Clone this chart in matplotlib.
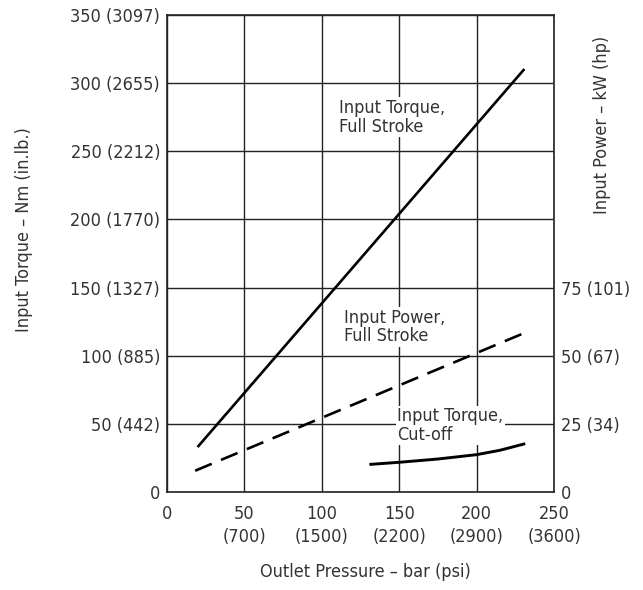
import matplotlib
matplotlib.use("Agg")
import matplotlib.pyplot as plt

plt.rcParams['font.family'] = ['DejaVu Sans']
plt.rcParams['font.stretch'] = 'condensed'

# outlet pressure (bar) vs torque / power
torque_full_p = [20.3, 230.3]
torque_full_nm = [33.7, 309.6]

power_full_p = [18.2, 232.8]
power_full_kw = [7.8, 58.8]

torque_cut_p = [131.7, 150, 175, 200, 215, 230.5]
torque_cut_nm = [20.3, 21.8, 24.2, 27.4, 30.6, 35.2]

x_ticks = [0, 50, 100, 150, 200, 250]
x_labels = ["0", "50\n(700)", "100\n(1500)", "150\n(2200)", "200\n(2900)", "250\n(3600)"]
y_ticks = [0, 50, 100, 150, 200, 250, 300, 350]
y_labels = ["0", "50 (442)", "100 (885)", "150 (1327)", "200 (1770)",
            "250 (2212)", "300 (2655)", "350 (3097)"]
p_ticks = [0, 25, 50, 75]
p_labels = ["0", "25 (34)", "50 (67)", "75 (101)"]

txt = "#333333"
fs = 13

fig = plt.figure(figsize=(6.43, 5.90), dpi=100)
ax = fig.add_axes([0.2597, 0.1661, 0.6019, 0.8085])
ax.set_xlim(0, 250)
ax.set_ylim(0, 350)
ax.set_xticks(x_ticks)
ax.set_xticklabels(x_labels, fontsize=fs, color=txt, linespacing=1.4)
ax.set_yticks(y_ticks)
ax.set_yticklabels(y_labels, fontsize=fs, color=txt)
ax.tick_params(length=0, pad=5)
ax.tick_params(axis="x", pad=9)
ax.grid(True, color="#222222", lw=1.0)
ax.set_axisbelow(True)
for s in ax.spines.values():
    s.set_linewidth(1.2)
    s.set_color("#222222")

ax.plot(torque_full_p, torque_full_nm, color="black", lw=1.9, zorder=4)
ax.plot(torque_cut_p, torque_cut_nm, color="black", lw=2.1, zorder=4)

ax2 = ax.twinx()
ax2.set_ylim(0, 175)
ax2.set_yticks(p_ticks)
ax2.set_yticklabels(p_labels, fontsize=fs, color=txt)
ax2.tick_params(length=0, pad=5)
for s in ax2.spines.values():
    s.set_visible(False)
ax2.plot(power_full_p, power_full_kw, color="black", lw=1.9, dashes=(6.8, 3.8), zorder=4)

bbox = dict(facecolor="white", edgecolor="none", pad=1)
ax.text(111.2, 288.5, "Input Torque,\nFull Stroke", fontsize=fs, color=txt,
        va="top", ha="left", linespacing=1.05, bbox=bbox, zorder=3)
ax.text(114.5, 134.5, "Input Power,\nFull Stroke", fontsize=fs, color=txt,
        va="top", ha="left", linespacing=1.05, bbox=bbox, zorder=3)
ax.text(148.9, 62.4, "Input Torque,\nCut-off", fontsize=fs, color=txt,
        va="top", ha="left", linespacing=1.05, bbox=bbox, zorder=3)

ax.set_ylabel("Input Torque – Nm (in.lb.)", fontsize=fs, color=txt)
ax.yaxis.set_label_coords(-0.346, 0.549)
ax2.set_ylabel("Input Power – kW (hp)", fontsize=fs, color=txt)
ax2.yaxis.set_label_coords(1.101, 0.770)
ax.set_xlabel("Outlet Pressure – bar (psi)", fontsize=fs, color=txt)
ax.xaxis.set_label_coords(0.513, -0.148)

fig.savefig("out.png", dpi=100)
